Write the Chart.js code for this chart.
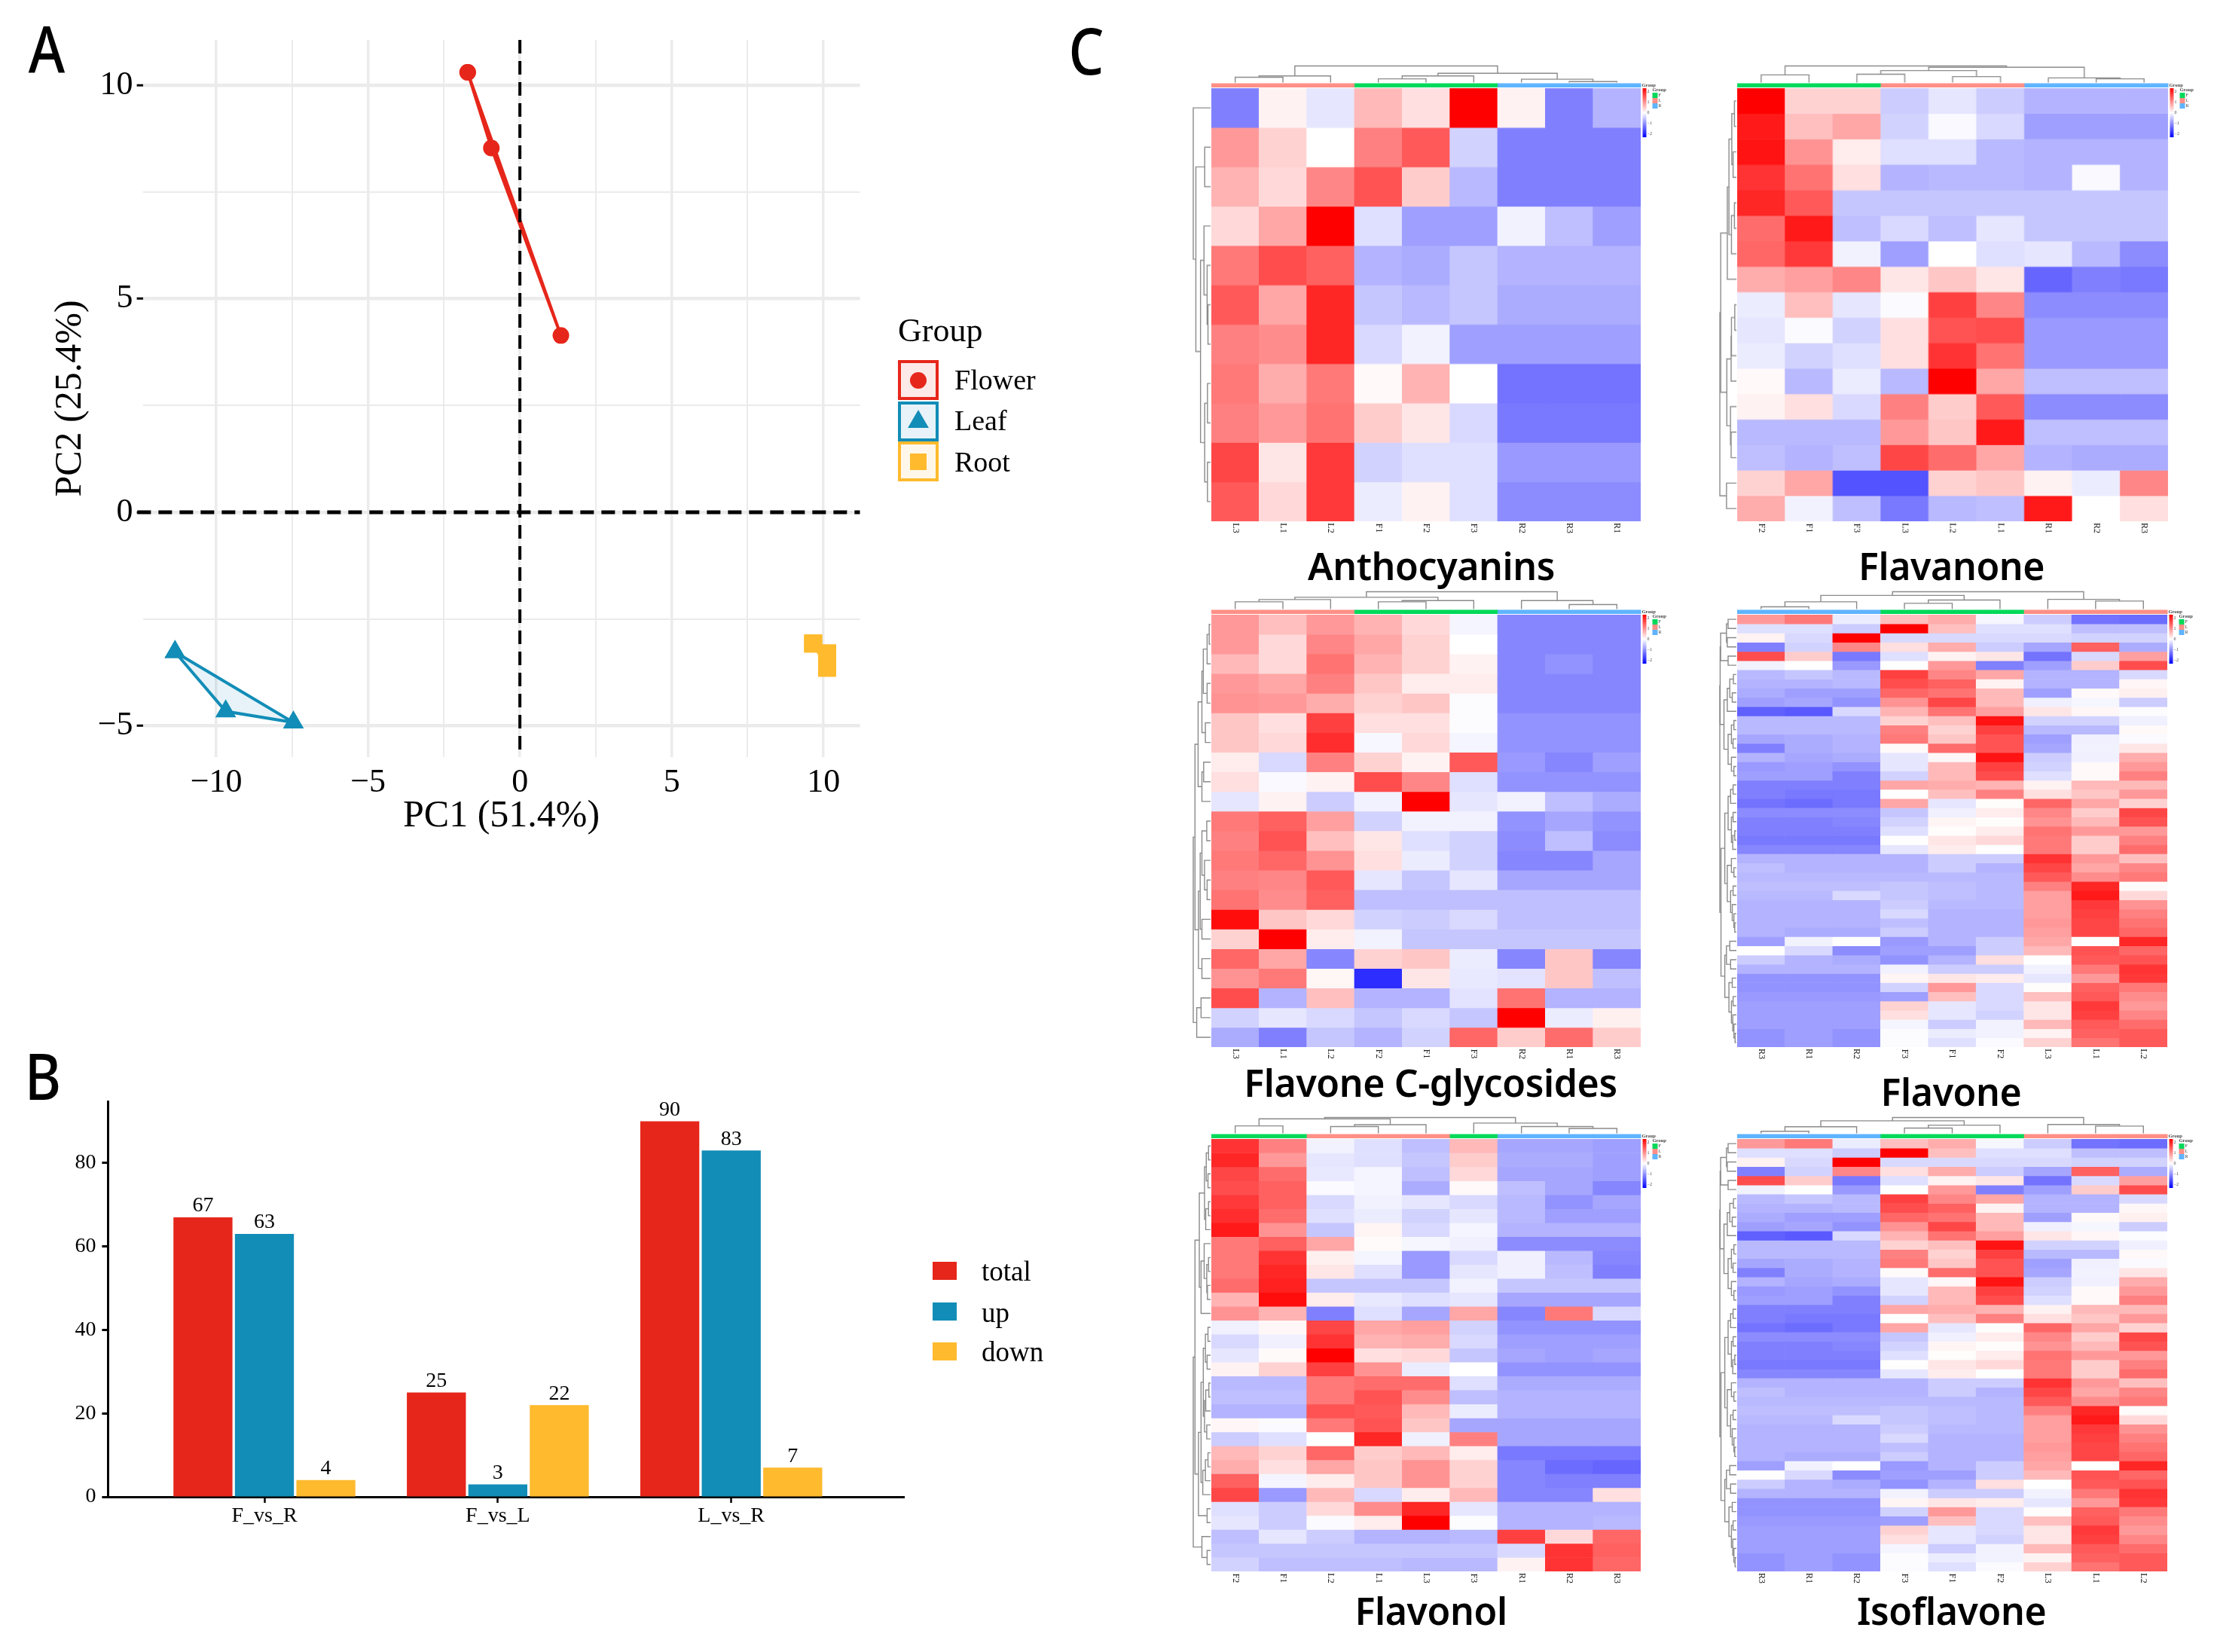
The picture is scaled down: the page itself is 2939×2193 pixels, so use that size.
<!DOCTYPE html>
<html>
<head>
<meta charset="utf-8">
<title>Flavonoid metabolites</title>
<script src="https://cdn.jsdelivr.net/npm/chart.js@4/dist/chart.umd.js"></script>
<style>
  html, body { margin: 0; background: #fff; }
  #page { position: relative; width: 2939px; height: 2193px; overflow: hidden; }
  canvas { position: absolute; }
  .letter, .title { position: absolute; font-family: "Noto Sans", sans-serif; color: #000; white-space: nowrap; line-height: 1; }
  .letter { font-size: 86px; font-weight: 500; transform: translate(-50%, -50%) scaleX(.86); }
  .title { font-size: 50px; font-weight: 600; transform: translate(-50%, -50%); letter-spacing: -.4px; }
</style>
</head>
<body>
<div id="page"></div>
<script>
const RED = '#e6261a', BLUE = '#128db7', YELLOW = '#ffba2e'
const SERIF = '"Liberation Serif", serif'

// panel A, PCA
const flowerX = [-1.72, -0.94, 1.35]
const flowerY = [10.3, 8.53, 4.14]
const leafX = [-11.36, -9.69, -7.46]
const leafY = [-3.27, -4.66, -4.92]
const rootX = [9.66, 10.12, 10.12]
const rootY = [-3.07, -3.3, -3.64]
const pcaXTicks = [-10, -7.5, -5, -2.5, 0, 2.5, 5, 7.5, 10]
const pcaYTicks = [-5, -2.5, 0, 2.5, 5, 7.5, 10]
const pcaGroups = ['Flower', 'Leaf', 'Root']

// panel B, counts
const compareLabels = ['F_vs_R', 'F_vs_L', 'L_vs_R']
const totalCounts = [67, 25, 90]
const upCounts = [63, 3, 83]
const downCounts = [4, 22, 7]
const countTicks = [0, 20, 40, 60, 80]

const anthoCols = ['L3', 'L1', 'L2', 'F1', 'F2', 'F3', 'R2', 'R3', 'R1']
const anthoRows = [
  [-1, .1, -.2, .55, .25, 2, .1, -1, -.6],
  [.8, .35, 0, 1, 1.3, -.35, -1, -1, -1],
  [.6, .3, .95, 1.35, .4, -.55, -1, -1, -1],
  [.3, .7, 2, -.25, -.75, -.75, -.1, -.5, -.75],
  [1.05, 1.4, 1.25, -.6, -.65, -.45, -.6, -.6, -.6],
  [1.3, .7, 1.7, -.45, -.55, -.45, -.65, -.65, -.65],
  [1, .9, 1.7, -.3, -.1, -.75, -.75, -.75, -.75],
  [1.05, .65, 1.05, .05, .6, 0, -1.1, -1.1, -1.1],
  [1, .8, 1.1, .4, .2, -.3, -1.05, -1.05, -1.05],
  [1.45, .2, 1.55, -.35, -.25, -.25, -.8, -.8, -.8],
  [1.3, .3, 1.55, -.15, .1, -.25, -.9, -.9, -.9]
]
const anthoTop = [1, [.4, [.32, 0, 1], 2], [.56, [.4, [.22, 3, 4], 5], [.2, 6, [.06, 7, 8]]]]
const anthoLeft = [1, 0, [.85, [.34, 1, 2], [.58, [.38, 3, [.2, 4, [.15, 5, 6]]], [.34, [.18, 7, 8], [.18, 9, 10]]]]]

const flavanoneCols = ['F2', 'F1', 'F3', 'L3', 'L2', 'L1', 'R1', 'R2', 'R3']
const flavanoneRows = [
  [2, .35, .35, -.4, -.2, -.4, -.6, -.6, -.6],
  [1.8, .5, .7, -.35, -.05, -.3, -.75, -.75, -.75],
  [1.85, .85, .15, -.25, -.25, -.55, -.6, -.6, -.6],
  [1.6, 1.1, .25, -.6, -.55, -.55, -.6, -.05, -.6],
  [1.7, 1.3, -.45, -.45, -.45, -.45, -.45, -.45, -.45],
  [1.15, 1.8, -.5, -.3, -.5, -.2, -.45, -.45, -.45],
  [1.2, 1.55, -.1, -.75, 0, -.25, -.2, -.55, -.9],
  [.65, .75, .95, .2, .45, .2, -1.2, -1, -1.05],
  [-.15, .5, -.2, -.03, 1.5, .95, -.9, -.9, -.9],
  [-.2, -.03, -.35, .25, 1.35, 1.4, -.8, -.8, -.8],
  [-.15, -.35, -.25, .25, 1.6, 1.1, -.8, -.8, -.8],
  [.05, -.55, -.15, -.55, 2, .7, -.5, -.5, -.5],
  [.1, .25, -.3, 1, .4, 1.3, -.9, -.9, -.9],
  [-.55, -.55, -.55, .8, .45, 1.8, -.5, -.5, -.5],
  [-.5, -.6, -.5, 1.45, 1.15, .7, -.6, -.65, -.65],
  [.35, .7, -1.35, -1.35, .35, .45, .1, -.15, .95],
  [.65, -.1, -.5, -1.05, -.55, -.5, 1.8, 0, .25]
]
const flavanoneTop = [1, [.46, 0, 1], [.92, [.72, [.5, 2, 3], [.36, 4, 5]], [.28, 6, [.22, 7, 8]]]]
const flavanoneLeft = [1, [.95, [.55, [.45, [.28, [.12, 0, 1], [.2, 2, 3]], [.3, [.12, 4, 5], 6]], 7], [.58, [.32, [.3, [.1, 8, 9], 10], 11], [.36, 12, [.32, 13, 14]]]], [.6, 15, 16]]

const glycoCols = ['L3', 'L1', 'L2', 'F2', 'F1', 'F3', 'R2', 'R1', 'R3']
const glycoRows = [
  [.8, .5, .8, .6, .3, -.08, -.95, -.95, -.95],
  [.8, .3, .95, .7, .35, 0, -.95, -.95, -.95],
  [.55, .3, 1.1, .6, .35, .1, -.95, -.85, -.95],
  [.8, .7, 1, .45, .15, .15, -.95, -.95, -.95],
  [.85, .8, .65, .35, .45, -.02, -.95, -.95, -.95],
  [.45, .25, 1.5, .25, .25, -.02, -.85, -.85, -.85],
  [.45, .3, 1.65, -.06, .3, -.08, -.85, -.85, -.85],
  [.15, -.3, 1, .35, .1, 1.3, -.8, -.95, -.75],
  [.25, -.05, .1, 1.4, .95, -.25, -.85, -.85, -.85],
  [-.2, .1, -.4, -.1, 2, -.2, -.1, -.5, -.65],
  [1.05, 1.25, .75, -.35, -.1, -.1, -.85, -.7, -.85],
  [1, 1.35, .5, .2, -.25, -.35, -.9, -.5, -.9],
  [1.05, 1.2, .85, .25, -.15, -.35, -.95, -.95, -.7],
  [1, .95, 1.3, -.2, -.45, -.2, -.7, -.7, -.7],
  [1.1, .9, 1.25, -.5, -.5, -.5, -.5, -.5, -.5],
  [1.9, .45, .3, -.35, -.4, -.3, -.5, -.5, -.5],
  [.35, 2, .15, -.1, -.45, -.45, -.45, -.45, -.45],
  [1.2, .7, -.95, .35, .45, -.15, -.95, .45, -.95],
  [.85, 1.05, .07, -1.65, .2, -.18, -.22, .45, -.5],
  [1.4, -.6, .5, -.6, -.6, -.22, 1.1, -.6, -.6],
  [-.35, -.2, -.3, -.45, -.3, -.45, 2, -.15, .12],
  [-.65, -1, -.45, -.6, -.35, 1.2, .4, 1.15, .4]
]
const glycoTop = [1, [.68, [.55, [.42, 0, 1], 2], [.49, [.42, 3, 4], 5]], [.49, 6, [.26, 7, 8]]]
const glycoLeft = [1, [.9, [.72, [.5, [.42, [.2, [.08, 0, 1], 2], [.2, 3, 4]], [.3, 5, 6]], [.5, [.4, 7, 8], 9]], [.7, [.6, [.5, [.22, 10, 11], [.35, 12, [.2, 13, 14]]], [.5, 15, 16]], [.5, 17, 18]]], [.8, [.55, 19, 20], 21]]

const flavoneCols = ['R3', 'R1', 'R2', 'F3', 'F1', 'F2', 'L3', 'L1', 'L2']
const flavoneRows = [
  [.8, 1.05, -.15, .5, .65, -.07, -.4, -1.1, -1.15],
  [-.25, -.25, -.4, 2, .5, -.25, -.25, -.5, -.5],
  [.1, -.3, 2, -.3, -.3, -.3, -.3, -.35, -.35],
  [-1, -.35, .95, .25, .65, -.4, -.7, 1.25, -.65],
  [1.4, .4, -1.05, -.25, .1, .2, -1.1, -.3, .75],
  [-.1, 0, -.8, -.01, .8, -1, -.75, .4, 1.4],
  [-.55, -.45, -.55, 1.5, .95, .7, -.6, -.6, -.3],
  [-.6, -.6, -.55, 1.4, 1.25, .1, -.6, -.6, .06],
  [-.65, -.75, -.75, 1.2, 1.1, .55, -.75, .05, .12],
  [-.75, -.7, -.85, .85, 1.45, .55, -.12, -.07, -.4],
  [-1.25, -1.3, -.3, .6, 1.1, .75, .2, .06, -.02],
  [-.55, -.55, -.55, .35, .5, 1.85, -.35, -.35, -.12],
  [-.55, -.55, -.55, 1, .35, 1.5, -.55, -.55, .05],
  [-.7, -.65, -.6, 1.05, .45, 1.35, -.75, -.12, -.04],
  [-1, -.65, -.6, .04, 1.15, 1.35, -.7, -.1, .2],
  [-.6, -.7, -.65, -.2, .06, 1.85, -.4, -.12, .65],
  [-.8, -.75, -.85, -.2, .55, 1.5, -.35, .05, .8],
  [-.75, -.75, -1, -.35, .55, 1.4, -.25, .05, 1],
  [-1, -1, -1, .7, .65, .6, .1, .55, .55],
  [-1, -1.05, -1.05, 0, .5, 1, .25, .45, .8],
  [-1.1, -1.15, -1.05, .7, -.2, .02, 1.2, .7, .35],
  [-.9, -.9, -.9, -.45, -.12, .15, .95, .4, 1.45],
  [-1, -1, -.95, -.35, .08, .02, .85, .55, 1.35],
  [-1, -1, -1, -.25, .02, .15, 1.1, .8, .8],
  [-1.05, -1.05, -1.05, .01, .2, .3, 1.05, .4, 1],
  [-.95, -.95, -.95, -.2, .15, -.01, 1.05, .4, 1.15],
  [-.6, -.6, -.6, -.6, -.4, -.4, 1.6, .8, .5],
  [-.5, -.6, -.6, -.6, -.4, -.6, 1.45, .7, .95],
  [-.55, -.55, -.55, -.55, -.55, -.55, 1.3, .9, 1.05],
  [-.5, -.5, -.5, -.45, -.5, -.55, 1, 1.7, .03],
  [-.55, -.55, -.3, -.45, -.5, -.55, .75, 1.8, .3],
  [-.6, -.6, -.6, -.4, -.55, -.55, .75, 1.55, .85],
  [-.6, -.6, -.6, -.3, -.6, -.6, .75, 1.5, 1],
  [-.6, -.6, -.6, -.5, -.6, -.6, .8, 1.45, 1.1],
  [-.6, -.65, -.65, -.4, -.6, -.6, .75, 1.45, 1.2],
  [-.75, -.1, -.01, -.8, -.6, -.4, .7, 0, 1.7],
  [-.01, -.3, -.9, -.75, -.75, -.4, .55, 1.35, 1.2],
  [-.4, -.6, -.65, -.85, -.6, .25, 0, 1.3, 1.35],
  [-.6, -.6, -.6, -.1, -.4, -.4, -.1, 1.05, 1.6],
  [-.85, -.85, -.85, .08, .2, .15, -.2, .8, 1.55],
  [-.85, -.85, -.85, -.35, .8, -.3, .02, 1.25, 1.05],
  [-.8, -.8, -.8, -.75, .5, -.3, .5, 1.3, .9],
  [-.75, -.75, -.75, .35, -.2, -.3, .2, 1.55, .8],
  [-.75, -.75, -.75, .25, -.2, -.35, .2, 1.5, .95],
  [-.75, -.75, -.75, -.08, -.4, -.1, .55, 1.3, 1.15],
  [-.85, -.75, -.85, -.02, -.15, -.1, .1, 1.25, 1.3],
  [-.85, -.75, -.85, -.02, -.25, -.03, .35, 1.1, 1.3]
]
const flavoneTop = [1, [.79, [.42, [.13, 0, 1], 2], [.52, [.33, 3, 4], 5]], [.56, 6, [.46, 7, 8]]]
const flavoneLeft = [1,
  [.98,
    [.95, [.6, [.5, 0, 1], [.55, 2, 3]], [.5, 4, 5]],
    [.75, [.55, [.4, [.18, 6, 7], [.25, 8, 9]], 10], [.5, [.3, [.15, 11, 12], [.2, 13, 14]], [.3, 15, [.15, 16, 17]]]]],
  [.93,
    [.7, [.5, [.35, [.2, 18, 19], 20], [.3, [.2, 21, 22], [.22, [.1, 23, 24], 25]]], [.55, [.3, 26, [.15, 27, 28]], [.35, [.2, 29, 30], [.25, 31, [.15, 32, [.1, 33, 34]]]]]],
    [.7, [.6, [.4, 35, 36], [.35, 37, 38]], [.45, [.25, 39, 40], [.3, [.2, 41, 42], [.22, 43, [.15, 44, [.08, 45, 46]]]]]]]]

const flavonolCols = ['F2', 'F1', 'L2', 'L1', 'L3', 'F3', 'R1', 'R2', 'R3']
const flavonolGroups = ['F', 'F', 'L', 'L', 'L', 'F', 'R', 'R', 'R']
const flavonolRows = [
  [1.6, 1, -.1, -.25, -.5, .55, -.7, -.7, -.75],
  [1.7, .8, -.2, -.25, -.45, .4, -.65, -.65, -.75],
  [1.45, 1.15, -.18, -.08, -.5, .3, -.7, -.7, -.75],
  [1.4, 1.25, -.04, -.08, -.65, .05, -.5, -.7, -.95],
  [1.55, 1.25, -.3, -.1, -.2, -.3, -.55, -.85, -.7],
  [1.65, 1.15, -.25, -.15, -.35, -.2, -.55, -.75, -.75],
  [1.8, .85, -.45, .08, -.3, -.08, -.6, -.6, -.6],
  [1.05, 1.25, .7, .03, -.07, -.12, -.9, -.9, -.9],
  [1.05, 1.6, .12, -.08, -.8, -.3, -.12, -.55, -.95],
  [1.05, 1.7, .2, -.25, -.8, -.2, -.12, -.5, -1],
  [1.15, 1.75, -.45, -.45, -.45, -.1, -.45, -.45, -.45],
  [.6, 1.9, .15, -.18, -.25, -.2, -.7, -.7, -.7],
  [.85, .6, -1, -.25, -.7, .7, -.95, 1.05, -.3],
  [-.12, .06, 1.45, .7, .75, -.35, -.85, -.85, -.85],
  [-.3, -.12, 1.6, .6, .65, -.3, -.75, -.75, -.75],
  [-.2, .04, 2, .25, .3, -.45, -.7, -.75, -.7],
  [.1, .35, 1.5, .85, -.15, 0, -.85, -.85, -.85],
  [-.55, -.55, 1.05, 1.15, 1.15, -.25, -.65, -.65, -.65],
  [-.5, -.5, 1.05, 1.35, .9, -.5, -.6, -.6, -.6],
  [-.6, -.6, 1.35, 1.3, .55, -.15, -.6, -.6, -.6],
  [.06, -.03, 1.05, 1.35, .45, -.7, -.7, -.7, -.7],
  [-.4, -.25, 0, 1.7, -.12, 1, -.7, -.7, -.7],
  [.55, .35, 1.2, .4, .55, .15, -1.05, -1.05, -1.05],
  [.65, .25, .7, .45, .85, .35, -.95, -1.15, -1.2],
  [1.25, -.08, .15, .45, .85, .35, -.95, -1, -1],
  [1.45, -.8, .55, -.3, .15, .55, -.95, -.95, .25],
  [-.25, -.4, .3, .9, 1.7, -.2, -.6, -.6, -.6],
  [-.2, -.4, -.03, .15, 2, -.02, -.6, -.6, -.55],
  [-.5, -.2, -.4, -.6, -.6, -.55, 1.5, .3, 1.2],
  [-.45, -.45, -.45, -.45, -.45, -.45, -.3, 1.6, 1.25],
  [-.35, -.5, -.5, -.5, -.55, -.55, .1, 1.6, 1.2]
]
const flavonolTop = [1, [.92, [.47, 0, 1], [.55, [.43, 2, 3], 4]], [.65, 5, [.43, 6, [.31, 7, 8]]]]
const flavonolLeft = [1,
  [.9,
    [.65, [.35, [.25, [.12, 0, 1], [.15, 2, 3]], [.28, [.12, 4, 5], 6]], [.55, [.37, 7, [.22, [.12, 8, 9], [.18, 10, 11]]], 12]],
    [.7, [.55, [.42, [.3, [.15, 13, 14], [.2, 15, 16]], [.35, [.28, [.1, 17, 18], 19], [.22, 20, 21]]], [.45, [.3, [.15, 22, 23], 24], 25]], [.2, 26, 27]]],
  [.5, 28, [.2, 29, 30]]]

const groupColors = { F: '#00d95a', L: '#ff8f86', R: '#5fb4ff' }
const legendGroups = ['F', 'L', 'R']
const barTicks = ['2', '1', '0', '−1', '−2']

const page = document.getElementById('page')

function addCanvas(left, top, width, height) {
  const c = document.createElement('canvas')
  c.width = width
  c.height = height
  c.style.left = left + 'px'
  c.style.top = top + 'px'
  c.style.width = width + 'px'
  c.style.height = height + 'px'
  page.appendChild(c)
  return c
}

function addText(cls, text, x, y) {
  const d = document.createElement('div')
  d.className = cls
  d.textContent = text
  d.style.left = x + 'px'
  d.style.top = y + 'px'
  page.appendChild(d)
}

function minusSign(v) {
  return String(v).replace('-', '−')
}

function toPoints(xs, ys) {
  const pts = xs.map((x, i) => ({ x: x, y: ys[i] }))
  pts.push(pts[0]) // close the hull
  return pts
}

addText('letter', 'A', 62, 64)
addText('letter', 'B', 57, 1427)
addText('letter', 'C', 1442, 66)

// ---------- A ----------
function marker(ctx, style, x, y, r) {
  ctx.beginPath()
  if (style == 'circle') {
    ctx.arc(x, y, r, 0, Math.PI * 2)
  } else if (style == 'triangle') {
    ctx.moveTo(x, y - r)
    ctx.lineTo(x + r * .87, y + r / 2)
    ctx.lineTo(x - r * .87, y + r / 2)
    ctx.closePath()
  } else {
    ctx.rect(x - r, y - r, r * 2, r * 2)
  }
  ctx.fill()
}

const pcaExtras = {
  id: 'pcaExtras',
  beforeDatasetsDraw(chart) {
    // light fill inside the group hulls
    const ctx = chart.ctx
    ctx.save()
    chart.data.datasets.forEach((ds, i) => {
      if (!ds.hullFill) return
      const pts = chart.getDatasetMeta(i).data
      ctx.beginPath()
      pts.forEach((p, k) => k ? ctx.lineTo(p.x, p.y) : ctx.moveTo(p.x, p.y))
      ctx.fillStyle = ds.hullFill
      ctx.fill()
    })
    ctx.restore()
  },
  afterDraw(chart) {
    const ctx = chart.ctx
    const colors = [RED, BLUE, YELLOW]
    const fills = ['rgba(230,38,26,.1)', 'rgba(18,141,183,.1)', 'rgba(255,186,46,.1)']
    const styles = ['circle', 'triangle', 'rect']
    const keyY = [480, 535, 588]
    const textY = [507, 561, 616]
    const sizes = [11, 16, 11]
    ctx.save()
    ctx.textBaseline = 'middle'
    ctx.fillStyle = '#000'
    ctx.font = '44px ' + SERIF
    ctx.fillText('Group', 1192, 441)
    pcaGroups.forEach((g, i) => {
      ctx.fillStyle = fills[i]
      ctx.strokeStyle = colors[i]
      ctx.lineWidth = 4
      ctx.fillRect(1194, keyY[i], 50, 49)
      ctx.strokeRect(1194, keyY[i], 50, 49)
      ctx.fillStyle = colors[i]
      marker(ctx, styles[i], 1219, keyY[i] + 25, sizes[i])
      ctx.fillStyle = '#000'
      ctx.font = '38px ' + SERIF
      ctx.fillText(g, 1267, textY[i])
    })
    ctx.restore()
  }
}

function hullDataset(xs, ys, color, fill, style, radius) {
  return {
    data: toPoints(xs, ys),
    showLine: true,
    borderColor: color,
    backgroundColor: color,
    borderWidth: 4,
    hullFill: fill,
    pointStyle: style,
    pointRadius: radius,
    pointBorderWidth: 0,
    tension: 0
  }
}

function dashLine(xs, ys, width) {
  return {
    data: xs.map((x, i) => ({ x: x, y: ys[i] })),
    showLine: true,
    borderColor: '#000',
    borderWidth: width,
    borderDash: [18, 10],
    pointRadius: 0,
    clip: false
  }
}

new Chart(addCanvas(0, 0, 1450, 1150), {
  type: 'scatter',
  data: {
    datasets: [
      dashLine([0, 0], [11.06, -5.73], 4),
      dashLine([-12.6, 11.2], [0, 0], 5),
      hullDataset(flowerX, flowerY, RED, 'rgba(230,38,26,.1)', 'circle', 11),
      hullDataset(leafX, leafY, BLUE, 'rgba(18,141,183,.1)', 'triangle', 16),
      hullDataset(rootX, rootY, YELLOW, 'rgba(255,186,46,.1)', 'rect', 17)
    ]
  },
  plugins: [pcaExtras],
  options: {
    responsive: false,
    animation: false,
    layout: { padding: { left: 0, top: 53, right: 308.5, bottom: 35 } },
    plugins: { legend: { display: false }, tooltip: { enabled: false } },
    scales: {
      x: {
        type: 'linear', min: -12.42, max: 11.2,
        afterBuildTicks: s => { s.ticks = pcaXTicks.map(v => ({ value: v })) },
        afterFit: s => { s.height = 110 },
        border: { display: false },
        grid: { color: '#ebebeb', lineWidth: c => c.tick && c.tick.value % 5 == 0 ? 3.5 : 2, tickColor: 'transparent', tickLength: 8 },
        ticks: {
          autoSkip: false, maxRotation: 0, padding: 4, color: '#000',
          font: { family: SERIF, size: 44, lineHeight: 1 },
          callback: v => v % 5 == 0 ? minusSign(v) : ''
        },
        title: { display: true, text: 'PC1 (51.4%)', color: '#000', font: { family: SERIF, size: 50, lineHeight: 1 }, padding: { bottom: 6, top: 0 } }
      },
      y: {
        type: 'linear', min: -5.73, max: 11.06,
        afterBuildTicks: s => { s.ticks = pcaYTicks.map(v => ({ value: v })) },
        afterFit: s => { s.width = 189.6 },
        border: { display: false },
        grid: {
          color: '#ebebeb',
          lineWidth: c => c.tick && c.tick.value % 5 == 0 ? 4.5 : 2,
          tickColor: c => c.tick && c.tick.value % 5 == 0 ? '#000' : 'transparent',
          tickWidth: 3, tickLength: 8
        },
        ticks: {
          autoSkip: false, padding: 5, color: '#000',
          font: { family: SERIF, size: 44, lineHeight: 1 },
          callback: v => v % 5 == 0 ? minusSign(v) : ''
        },
        title: { display: true, text: 'PC2 (25.4%)', color: '#000', font: { family: SERIF, size: 50, lineHeight: 1 }, padding: { top: 69, bottom: 0 } }
      }
    }
  }
})

// ---------- B ----------
const barExtras = {
  id: 'barExtras',
  afterDatasetsDraw(chart) {
    const ctx = chart.ctx
    ctx.save()
    ctx.fillStyle = '#000'
    ctx.font = '28px ' + SERIF
    ctx.textAlign = 'center'
    ctx.textBaseline = 'middle'
    chart.data.datasets.forEach((ds, i) => {
      chart.getDatasetMeta(i).data.forEach((el, k) => {
        ctx.fillText(ds.data[k].y, el.x, el.y - 15)
      })
    })
    ctx.textAlign = 'left'
    ctx.font = '37px ' + SERIF
    const keyY = [235, 289, 342]
    const textY = [250.5, 305, 357.5]
    chart.data.datasets.forEach((ds, i) => {
      ctx.fillStyle = ds.backgroundColor
      ctx.fillRect(1238, keyY[i], 32, 24)
      ctx.fillStyle = '#000'
      ctx.fillText(ds.label, 1303, textY[i])
    })
    ctx.restore()
  }
}

function countDataset(label, values, color) {
  return {
    label: label,
    data: values.map((v, i) => ({ x: i + 1, y: v })),
    backgroundColor: color,
    categoryPercentage: .79,
    barPercentage: .96
  }
}

new Chart(addCanvas(0, 1440, 1450, 620), {
  type: 'bar',
  data: {
    datasets: [
      countDataset('total', totalCounts, RED),
      countDataset('up', upCounts, BLUE),
      countDataset('down', downCounts, YELLOW)
    ]
  },
  plugins: [barExtras],
  options: {
    responsive: false,
    animation: false,
    layout: { padding: { left: 0, top: 21.7, right: 250, bottom: 0 } },
    plugins: { legend: { display: false }, tooltip: { enabled: false } },
    scales: {
      x: {
        type: 'linear', min: .33, max: 3.74, offset: false,
        afterBuildTicks: s => { s.ticks = compareLabels.map((l, i) => ({ value: i + 1 })) },
        afterFit: s => { s.height = 73 },
        border: { display: true, color: '#000', width: 3 },
        grid: { offset: false, drawOnChartArea: false, tickColor: '#000', tickWidth: 2.5, tickLength: 8 },
        ticks: {
          autoSkip: false, maxRotation: 0, padding: 4, color: '#000',
          font: { family: SERIF, size: 28, lineHeight: 1 },
          callback: v => compareLabels[v - 1]
        }
      },
      y: {
        type: 'linear', min: 0, max: 94.8,
        afterBuildTicks: s => { s.ticks = countTicks.map(v => ({ value: v })) },
        afterFit: s => { s.width = 143.4 },
        border: { display: true, color: '#000', width: 3 },
        grid: { drawOnChartArea: false, tickColor: '#000', tickWidth: 3, tickLength: 8 },
        ticks: { autoSkip: false, padding: 8, color: '#000', font: { family: SERIF, size: 28, lineHeight: 1 } }
      }
    }
  }
})

// ---------- C ----------
function heatColor(v) {
  const t = Math.min(1, Math.abs(v) / 2)
  const c = Math.round(255 * (1 - t))
  return v >= 0 ? `rgb(255,${c},${c})` : `rgb(${c},${c},255)`
}

function drawTree(node, leafPos, seg) {
  if (typeof node == 'number') return { p: leafPos(node), h: 0 }
  const a = drawTree(node[1], leafPos, seg)
  const b = drawTree(node[2], leafPos, seg)
  seg(a, b, node[0])
  return { p: (a.p + b.p) / 2, h: node[0] }
}

function heatExtras(panel) {
  return {
    id: 'heatExtras',
    afterDraw(chart) {
      const ctx = chart.ctx
      const area = chart.chartArea
      const xs = chart.scales.x
      const ys = chart.scales.y
      const colW = (area.right - area.left) / panel.cols.length
      const annotBottom = area.top - 1
      const annotTop = area.top - 6.5
      ctx.save()

      // group strip above the heat map
      panel.cols.forEach((name, i) => {
        const g = panel.groups ? panel.groups[i] : name[0]
        ctx.fillStyle = groupColors[g]
        ctx.fillRect(xs.getPixelForValue(i) - colW / 2, annotTop, colW + .5, annotBottom - annotTop)
      })

      // dendrograms
      ctx.strokeStyle = '#8a8a8a'
      ctx.lineWidth = 1.4
      drawTree(panel.top, i => xs.getPixelForValue(i), (a, b, h) => {
        const y = v => annotTop - 1 - v * panel.topSize
        ctx.beginPath()
        ctx.moveTo(a.p, y(a.h))
        ctx.lineTo(a.p, y(h))
        ctx.lineTo(b.p, y(h))
        ctx.lineTo(b.p, y(b.h))
        ctx.stroke()
      })
      drawTree(panel.left, r => ys.getPixelForValue(r + .5), (a, b, h) => {
        const x = v => area.left - 1 - v * panel.leftSize
        ctx.beginPath()
        ctx.moveTo(x(a.h), a.p)
        ctx.lineTo(x(h), a.p)
        ctx.lineTo(x(h), b.p)
        ctx.lineTo(x(b.h), b.p)
        ctx.stroke()
      })

      // sample names, turned clockwise
      ctx.fillStyle = '#222'
      ctx.font = '12px ' + SERIF
      ctx.textAlign = 'center'
      ctx.textBaseline = 'middle'
      panel.cols.forEach((name, i) => {
        ctx.save()
        ctx.translate(xs.getPixelForValue(i), area.bottom + 9)
        ctx.rotate(Math.PI / 2)
        ctx.fillText(name, 0, 0)
        ctx.restore()
      })

      // colour key
      const barX = area.right + 2.5
      const grad = ctx.createLinearGradient(0, area.top, 0, area.top + 65)
      grad.addColorStop(0, '#ff0000')
      grad.addColorStop(.5, '#ffffff')
      grad.addColorStop(1, '#0000ff')
      ctx.fillStyle = grad
      ctx.fillRect(barX, area.top, 5, 65)
      ctx.fillStyle = '#444'
      ctx.font = '6px ' + SERIF
      ctx.textAlign = 'left'
      barTicks.forEach((t, i) => ctx.fillText(t, barX + 6, area.top + 4 + i * 14))
      ctx.font = 'bold 6.5px ' + SERIF
      ctx.fillText('Group', barX - 1, area.top - 4)
      ctx.fillText('Group', barX + 13, area.top + 2.5)
      ctx.font = '6px ' + SERIF
      legendGroups.forEach((g, i) => {
        ctx.fillStyle = groupColors[g]
        ctx.fillRect(barX + 13, area.top + 6 + i * 7, 7, 7)
        ctx.fillStyle = '#444'
        ctx.fillText(g, barX + 21, area.top + 9.5 + i * 7)
      })
      ctx.restore()
    }
  }
}

function heatMap(panel) {
  const padL = 30, padR = 50, padT = 40, padB = 24
  const w = panel.right - panel.x
  const h = panel.bottom - panel.y
  const canvas = addCanvas(panel.x - padL, panel.y - padT, w + padL + padR, h + padT + padB)
  new Chart(canvas, {
    type: 'bar',
    data: {
      labels: panel.cols,
      datasets: panel.rows.map(row => ({
        data: row.map(() => 1), // every cell is one row tall
        backgroundColor: row.map(heatColor),
        borderWidth: 0,
        categoryPercentage: 1,
        barPercentage: 1
      }))
    },
    plugins: [heatExtras(panel)],
    options: {
      responsive: false,
      animation: false,
      layout: { padding: { left: padL, right: padR, top: padT, bottom: padB } },
      plugins: { legend: { display: false }, tooltip: { enabled: false } },
      scales: {
        x: { stacked: true, display: false },
        y: { stacked: true, display: false, reverse: true, min: 0, max: panel.rows.length }
      }
    }
  })
  addText('title', panel.name, panel.titleX, panel.titleY)
}

heatMap({ name: 'Anthocyanins', cols: anthoCols, rows: anthoRows, top: anthoTop, left: anthoLeft, x: 1607.7, right: 2178, y: 116.8, bottom: 691.7, topSize: 22, leftSize: 23, titleX: 1900, titleY: 751 })
heatMap({ name: 'Flavanone', cols: flavanoneCols, rows: flavanoneRows, top: flavanoneTop, left: flavanoneLeft, x: 2305.7, right: 2877.6, y: 116.8, bottom: 691.7, topSize: 22, leftSize: 22, titleX: 2590.6, titleY: 751 })
heatMap({ name: 'Flavone C-glycosides', cols: glycoCols, rows: glycoRows, top: glycoTop, left: glycoLeft, x: 1607.7, right: 2178, y: 815.9, bottom: 1390.4, topSize: 23, leftSize: 23, titleX: 1899, titleY: 1437 })
heatMap({ name: 'Flavone', cols: flavoneCols, rows: flavoneRows, top: flavoneTop, left: flavoneLeft, x: 2305.7, right: 2876.8, y: 815.9, bottom: 1390.4, topSize: 23, leftSize: 22, titleX: 2590, titleY: 1449 })
heatMap({ name: 'Flavonol', cols: flavonolCols, groups: flavonolGroups, rows: flavonolRows, top: flavonolTop, left: flavonolLeft, x: 1607.7, right: 2178, y: 1512.3, bottom: 2086.4, topSize: 21, leftSize: 23, titleX: 1899.6, titleY: 2138 })
heatMap({ name: 'Isoflavone', cols: flavoneCols, rows: flavoneRows, top: flavoneTop, left: flavoneLeft, x: 2305.7, right: 2876.8, y: 1512.3, bottom: 2086.4, topSize: 21, leftSize: 22, titleX: 2590.6, titleY: 2138 })
</script>
</body>
</html>
